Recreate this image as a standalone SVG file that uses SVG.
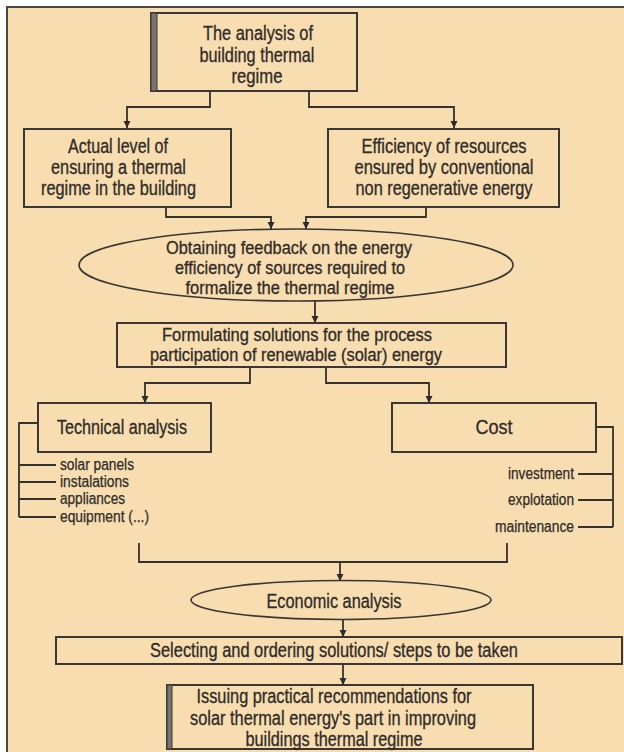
<svg xmlns="http://www.w3.org/2000/svg" width="624" height="752" viewBox="0 0 624 752">
<defs>
<style>
.bg{fill:#F7DDB0;stroke:#4a4643;stroke-width:2}
.box{fill:#F7DDB0;stroke:#3a3633;stroke-width:2}
.ell{fill:#F7DDB0;stroke:#3a3633;stroke-width:1.6}
.bar{fill:#77736f;stroke:#3a3633;stroke-width:1}
.t{font-family:"Liberation Sans Narrow","Arial Narrow","Liberation Sans",Arial,sans-serif;font-size:19.5px;fill:#2f2b28;stroke:#2f2b28;stroke-width:0.3;text-anchor:middle}
.tc{font-size:17.5px}
.s{font-family:"Liberation Sans Narrow","Arial Narrow","Liberation Sans",Arial,sans-serif;font-size:16px;fill:#2f2b28;stroke:#2f2b28;stroke-width:0.25}
.c{fill:none;stroke:#35312e;stroke-width:1.8}
</style>
<marker id="ah" viewBox="0 0 10 10" refX="10" refY="5" markerWidth="7" markerHeight="8" markerUnits="userSpaceOnUse" orient="auto">
<path d="M0,0 L10,5 L0,10 z" fill="#2f2b28"/>
</marker>
</defs>
<rect x="0" y="0" width="624" height="752" fill="#ffffff"/>
<rect class="bg" x="7" y="7" width="640" height="770"/>

<g id="connectors">
<path class="c" d="M210,91 V107 H127 V128" marker-end="url(#ah)"/>
<path class="c" d="M309,91 V107 H454 V128" marker-end="url(#ah)"/>
<path class="c" d="M166,207 V217 H271 V229" marker-end="url(#ah)"/>
<path class="c" d="M426,207 V217 H306 V229" marker-end="url(#ah)"/>
<path class="c" d="M315,301 V323" marker-end="url(#ah)"/>
<path class="c" d="M250,368 V383 H145 V403" marker-end="url(#ah)"/>
<path class="c" d="M326,368 V383 H429 V403" marker-end="url(#ah)"/>
<path class="c" d="M38,423 H19 V517 M19,465 H56 M19,482 H56 M19,499 H56 M19,517 H56"/>
<path class="c" d="M596,427 H613 V527 M578,474 H613 M578,500 H613 M578,527 H613"/>
<path class="c" d="M139,543 V562 H507 V543"/>
<path class="c" d="M340,562 V581" marker-end="url(#ah)"/>
<path class="c" d="M343,620 V637" marker-end="url(#ah)"/>
<path class="c" d="M343,664 V685" marker-end="url(#ah)"/>
</g>

<g id="n-analysis">
<rect class="box" x="151" y="13" width="206" height="78"/>
<rect class="bar" x="151" y="13" width="6" height="78"/>
<text class="t" x="258" y="40" textLength="110" lengthAdjust="spacingAndGlyphs">The analysis of</text>
<text class="t" x="257" y="62" textLength="115" lengthAdjust="spacingAndGlyphs">building thermal</text>
<text class="t" x="257" y="83" textLength="51" lengthAdjust="spacingAndGlyphs">regime</text>
</g>

<g id="n-actual">
<rect class="box" x="24" y="129" width="207" height="78"/>
<text class="t" x="118" y="153" textLength="100" lengthAdjust="spacingAndGlyphs">Actual level of</text>
<text class="t" x="118.5" y="174" textLength="135" lengthAdjust="spacingAndGlyphs">ensuring a thermal</text>
<text class="t" x="118.5" y="195" textLength="155" lengthAdjust="spacingAndGlyphs">regime in the building</text>
</g>

<g id="n-efficiency">
<rect class="box" x="328" y="129" width="231" height="78"/>
<text class="t" x="444" y="153" textLength="165" lengthAdjust="spacingAndGlyphs">Efficiency of resources</text>
<text class="t" x="444" y="174" textLength="179" lengthAdjust="spacingAndGlyphs">ensured by conventional</text>
<text class="t" x="444" y="195" textLength="177" lengthAdjust="spacingAndGlyphs">non regenerative energy</text>
</g>

<g id="n-feedback">
<ellipse class="ell" cx="296" cy="265" rx="217" ry="36"/>
<text class="t tc" x="289" y="254" textLength="246" lengthAdjust="spacingAndGlyphs">Obtaining feedback on the energy</text>
<text class="t tc" x="290" y="274" textLength="230" lengthAdjust="spacingAndGlyphs">efficiency of sources required to</text>
<text class="t tc" x="290" y="294" textLength="209" lengthAdjust="spacingAndGlyphs">formalize the thermal regime</text>
</g>

<g id="n-formulating">
<rect class="box" x="117" y="323" width="389" height="44"/>
<text class="t tc" x="297" y="341" textLength="270" lengthAdjust="spacingAndGlyphs">Formulating solutions for the process</text>
<text class="t tc" x="296" y="361" textLength="292" lengthAdjust="spacingAndGlyphs">participation of renewable (solar) energy</text>
</g>

<g id="n-technical">
<rect class="box" x="38" y="403" width="173" height="49"/>
<text class="t" x="122" y="434" textLength="130" lengthAdjust="spacingAndGlyphs">Technical analysis</text>
<text class="s" x="60" y="470" textLength="74" lengthAdjust="spacingAndGlyphs">solar panels</text>
<text class="s" x="60" y="487" textLength="69" lengthAdjust="spacingAndGlyphs">instalations</text>
<text class="s" x="60" y="504" textLength="65" lengthAdjust="spacingAndGlyphs">appliances</text>
<text class="s" x="60" y="522" textLength="89" lengthAdjust="spacingAndGlyphs">equipment (...)</text>
</g>

<g id="n-cost">
<rect class="box" x="392" y="403" width="204" height="49"/>
<text class="t" x="494" y="434" textLength="37" lengthAdjust="spacingAndGlyphs">Cost</text>
<text class="s" x="574" y="479" text-anchor="end" textLength="66" lengthAdjust="spacingAndGlyphs">investment</text>
<text class="s" x="574" y="505" text-anchor="end" textLength="66" lengthAdjust="spacingAndGlyphs">explotation</text>
<text class="s" x="574" y="532" text-anchor="end" textLength="79" lengthAdjust="spacingAndGlyphs">maintenance</text>
</g>

<g id="n-economic">
<ellipse class="ell" cx="341" cy="600" rx="150" ry="19.5"/>
<text class="t" x="334" y="608" textLength="135" lengthAdjust="spacingAndGlyphs">Economic analysis</text>
</g>

<g id="n-selecting">
<rect class="box" x="56" y="637" width="566" height="27"/>
<text class="t" x="334" y="657" textLength="368" lengthAdjust="spacingAndGlyphs">Selecting and ordering solutions/ steps to be taken</text>
</g>

<g id="n-issuing">
<rect class="box" x="167" y="685" width="366" height="64"/>
<rect class="bar" x="167" y="685" width="5" height="64"/>
<text class="t" x="334" y="703" textLength="275" lengthAdjust="spacingAndGlyphs">Issuing practical recommendations for</text>
<text class="t" x="333" y="725" textLength="286" lengthAdjust="spacingAndGlyphs">solar thermal energy's part in improving</text>
<text class="t" x="334" y="746" textLength="177" lengthAdjust="spacingAndGlyphs">buildings thermal regime</text>
</g>
</svg>
